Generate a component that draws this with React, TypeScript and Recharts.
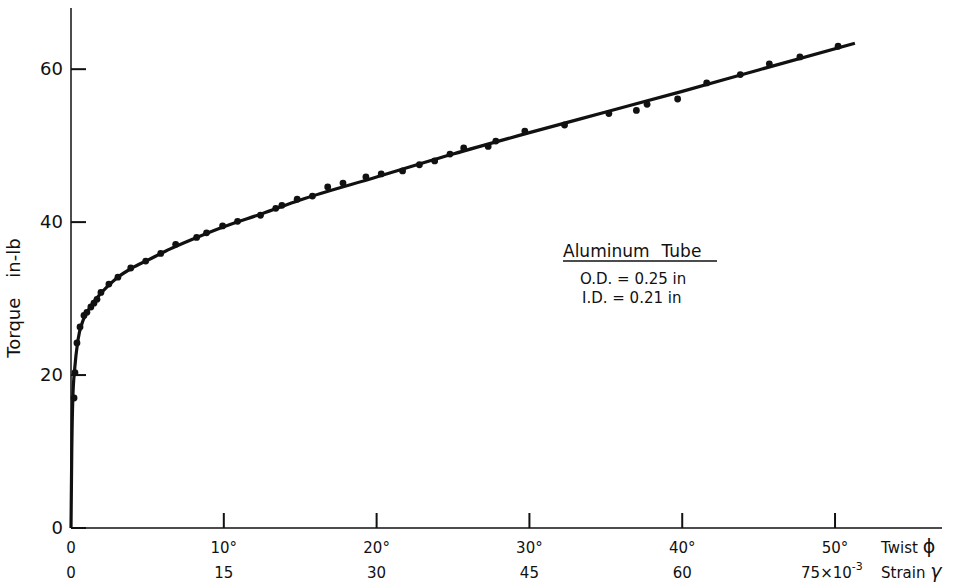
import { ComposedChart, Line, Scatter, XAxis, YAxis } from "recharts";

// measured points: twist (deg) vs torque (in-lb)
const twist = [
  0.2, 0.26, 0.39, 0.59, 0.85, 1.04, 1.3, 1.5, 1.7, 1.96, 2.48, 3.07, 3.91, 4.89,
  5.87, 6.85, 8.22, 8.87, 9.92, 10.9, 12.4, 13.4, 13.8, 14.8, 15.8, 16.8, 17.8,
  19.3, 20.3, 21.7, 22.8, 23.8, 24.8, 25.7, 27.3, 27.8, 29.7, 32.3, 35.2, 37.0,
  37.7, 39.7, 41.6, 43.8, 45.7, 47.7, 50.2,
];
const torque = [
  17.0, 20.3, 24.2, 26.3, 27.8, 28.2, 28.9, 29.4, 29.9, 30.8, 31.9, 32.8, 34.0,
  34.9, 35.9, 37.1, 38.0, 38.6, 39.5, 40.1, 40.9, 41.8, 42.2, 43.0, 43.4, 44.6,
  45.1, 45.9, 46.3, 46.7, 47.5, 48.0, 48.9, 49.7, 49.9, 50.6, 51.9, 52.7, 54.2,
  54.6, 55.4, 56.1, 58.2, 59.3, 60.7, 61.6, 63.0,
];

// fitted curve
const curveTwist = [0, 0.05, 0.12, 0.25, 0.45, 0.8, 1.3, 2, 3, 4, 5, 6.5, 8, 10, 12.5, 15, 20, 25, 30, 35, 40, 45, 51.3];
const curveTorque = [0, 10, 17, 21, 24.5, 27.2, 29, 30.8, 32.7, 34, 35, 36.5, 37.8, 39.4, 41.1, 42.9, 45.9, 48.9, 51.7, 54.4, 57.1, 59.9, 63.4];

const twistTicks = [0, 10, 20, 30, 40, 50];
const twistLabels = ["0", "10°", "20°", "30°", "40°", "50°"];
const strainLabels = ["0", "15", "30", "45", "60", "75"];
const torqueTicks = [0, 20, 40, 60];

const FONT = "'DejaVu Sans', sans-serif";
const INK = "#111";

const curveData = curveTwist.map((x, i) => ({ x, y: curveTorque[i] }));
const pointData = twist.map((x, i) => ({ x, y: torque[i] }));

function XTick(props: any) {
  const { x, y, payload } = props;
  const i = twistTicks.indexOf(payload.value);
  const last = i === twistTicks.length - 1;
  return (
    <g fontFamily={FONT} fill={INK}>
      <text x={x} y={y + 25} textAnchor="middle" fontSize={15}>
        {twistLabels[i]}
      </text>
      {last ? (
        <>
          <text x={x - 34} y={y + 50} textAnchor="start" fontSize={15}>
            {strainLabels[i]}×10
            <tspan dy={-8} fontSize={11}>-3</tspan>
          </text>
          <text x={x + 46} y={y + 25} fontSize={15}>
            Twist <tspan fontSize={19}>ϕ</tspan>
          </text>
          <text x={x + 46} y={y + 50} fontSize={15}>
            Strain <tspan fontSize={19} fontStyle="italic">γ</tspan>
          </text>
        </>
      ) : (
        <text x={x} y={y + 50} textAnchor="middle" fontSize={15}>
          {strainLabels[i]}
        </text>
      )}
    </g>
  );
}

function YTick(props: any) {
  const { x, y, payload } = props;
  return (
    <text x={x - 8} y={y + 6} textAnchor="end" fontSize={18} fontFamily={FONT} fill={INK}>
      {payload.value}
    </text>
  );
}

const Dot = (props: any) => <circle cx={props.cx} cy={props.cy} r={3.4} fill={INK} />;

export default function App() {
  return (
    <div style={{ position: "absolute", left: 0, top: 0, width: 968, height: 582, background: "#fff" }}>
      <ComposedChart
        width={968}
        height={582}
        data={curveData}
        margin={{ top: 8, right: 26, bottom: 0, left: 0 }}
      >
        <XAxis
          dataKey="x"
          type="number"
          domain={[0, 57]}
          ticks={twistTicks}
          height={54}
          tickSize={-15}
          tickMargin={15}
          tickLine={{ stroke: INK, strokeWidth: 2 }}
          stroke={INK}
          strokeWidth={1.5}
          tick={<XTick />}
          interval={0}
        />
        <YAxis
          dataKey="y"
          type="number"
          domain={[0, 68]}
          ticks={torqueTicks}
          width={71}
          tickSize={-15}
          tickMargin={15}
          tickLine={{ stroke: INK, strokeWidth: 2 }}
          stroke={INK}
          strokeWidth={1.5}
          tick={<YTick />}
          interval={0}
        />
        <Line
          type="monotone"
          dataKey="y"
          stroke={INK}
          strokeWidth={3.2}
          dot={false}
          activeDot={false}
          isAnimationActive={false}
        />
        <Scatter data={pointData} dataKey="y" shape={<Dot />} isAnimationActive={false} />
      </ComposedChart>
      <svg
        width={968}
        height={582}
        style={{ position: "absolute", left: 0, top: 0, pointerEvents: "none" }}
        fontFamily={FONT}
        fill={INK}
      >
        <text transform="translate(20 298) rotate(-90)" textAnchor="middle" fontSize={18}>
          Torque<tspan dx={20}>in-lb</tspan>
        </text>
        <text x={563} y={257} fontSize={17}>
          Aluminum<tspan dx={12}>Tube</tspan>
        </text>
        <line x1={563} y1={261} x2={717} y2={261} stroke={INK} strokeWidth={1.5} />
        <text x={580} y={284} fontSize={15}>O.D. = 0.25 in</text>
        <text x={582} y={303} fontSize={15}>I.D. = 0.21 in</text>
      </svg>
    </div>
  );
}
